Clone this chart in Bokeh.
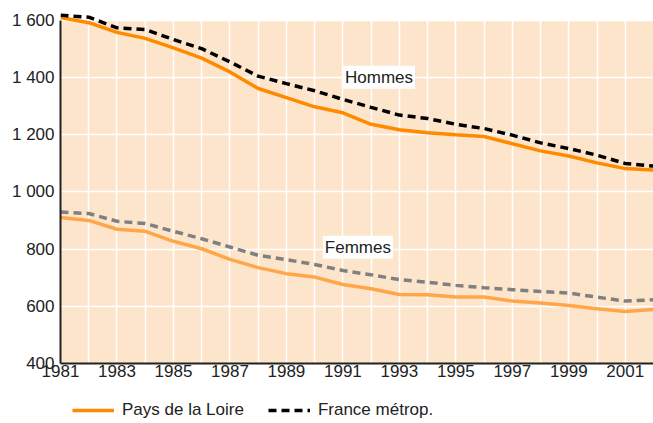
from bokeh.plotting import figure
from bokeh.layouts import column
from bokeh.models import (FixedTicker, Range1d, BoxAnnotation, Label, Legend, LegendItem)
from bokeh.embed import file_html
from bokeh.resources import INLINE

years = [1981, 1982, 1983, 1984, 1985, 1986, 1987, 1988, 1989, 1990, 1991,
         1992, 1993, 1994, 1995, 1996, 1997, 1998, 1999, 2000, 2001, 2002]
hommes_pdl = [1609, 1591, 1557, 1536, 1503, 1467, 1419, 1361, 1329, 1297, 1276,
              1236, 1217, 1206, 1199, 1193, 1168, 1143, 1125, 1101, 1081, 1076]
hommes_fr = [1617, 1610, 1573, 1567, 1532, 1500, 1454, 1404, 1378, 1353, 1323,
             1295, 1268, 1256, 1236, 1221, 1198, 1171, 1151, 1128, 1099, 1090]
femmes_pdl = [910, 900, 869, 862, 827, 801, 764, 735, 714, 702, 676,
              661, 641, 640, 632, 632, 618, 611, 603, 591, 582, 589]
femmes_fr = [929, 924, 897, 889, 862, 836, 807, 778, 763, 746, 725,
             710, 693, 684, 673, 665, 658, 652, 646, 632, 618, 623]
x_ticks = [1981, 1983, 1985, 1987, 1989, 1991, 1993, 1995, 1997, 1999, 2001]
y_ticks = [400, 600, 800, 1000, 1200, 1400, 1600]
y_tick_labels = ["400", "600", "800", "1 000", "1 200", "1 400", "1 600"]
series_names = ["Pays de la Loire", "France métrop."]
group_labels = ["Hommes", "Femmes"]

FONT = "Liberation Sans"
FS = "17px"
TXT = "#222222"
PEACH = "#FDE5CC"
ORANGE = "#FF8A00"
LIGHT_ORANGE = "#FFA748"
DASH = "8 5"

p = figure(width=653, height=385, output_backend="svg", toolbar_location=None,
           x_range=Range1d(1981, 2002), y_range=Range1d(400, 1630),
           min_border_left=60, min_border_right=0, min_border_top=11,
           min_border_bottom=22, background_fill_color="white",
           border_fill_color="white", outline_line_color=None)

p.add_layout(BoxAnnotation(left=1981, right=2002, bottom=400, top=1600,
                           fill_color=PEACH, fill_alpha=1.0, line_color=None,
                           level="image"))

p.xgrid.ticker = FixedTicker(ticks=years)
p.ygrid.ticker = FixedTicker(ticks=y_ticks)
p.xgrid.grid_line_color = "white"
p.ygrid.grid_line_color = "white"
p.xgrid.grid_line_width = 1.5
p.ygrid.grid_line_width = 1.5

p.xaxis.ticker = FixedTicker(ticks=x_ticks)
p.yaxis.ticker = FixedTicker(ticks=y_ticks)
p.yaxis.major_label_overrides = {t: l for t, l in zip(y_ticks, y_tick_labels)}
p.yaxis.bounds = (400, 1600)
for ax in (p.xaxis[0], p.yaxis[0]):
    ax.major_tick_in = 0
    ax.major_tick_out = 0
    ax.minor_tick_in = 0
    ax.minor_tick_out = 0
    ax.axis_line_color = TXT
    ax.axis_line_width = 2
    ax.major_label_text_font = FONT
    ax.major_label_text_font_size = FS
    ax.major_label_text_color = TXT
p.yaxis.major_label_standoff = 6
p.xaxis.major_label_standoff = 1

r_h_pdl = p.line(years, hommes_pdl, line_color=ORANGE, line_width=3.5)
r_h_fr = p.line(years, hommes_fr, line_color="black", line_width=3.5, line_dash=DASH)
r_f_pdl = p.line(years, femmes_pdl, line_color=LIGHT_ORANGE, line_width=3.5)
r_f_fr = p.line(years, femmes_fr, line_color="#808080", line_width=3.5, line_dash=DASH)

for txt, x, y in [(group_labels[0], 1992.28, 1400), (group_labels[1], 1991.53, 806)]:
    p.add_layout(Label(x=x, y=y, text=txt, text_align="center", text_baseline="middle",
                       text_font=FONT, text_font_size=FS, text_color=TXT,
                       background_fill_color="white", background_fill_alpha=1.0,
                       padding=2))

# legend strip below the chart (its sample lines lie outside its visible range)
q = figure(width=653, height=38, output_backend="svg", toolbar_location=None,
           x_range=Range1d(0, 1), y_range=Range1d(0, 1),
           x_axis_location=None, y_axis_location=None,
           min_border_left=0, min_border_right=0, min_border_top=0,
           min_border_bottom=0, background_fill_color="white",
           border_fill_color="white", outline_line_color=None)
q.grid.visible = False
l1 = q.line(years[:2], hommes_pdl[:2], line_color=ORANGE, line_width=3.5)
l2 = q.line(years[:2], hommes_fr[:2], line_color="black", line_width=3.5, line_dash=DASH)
legend = Legend(items=[LegendItem(label=series_names[0], renderers=[l1]),
                       LegendItem(label=series_names[1], renderers=[l2])],
                orientation="horizontal", location=(12, 3),
                label_text_font=FONT, label_text_font_size=FS,
                label_text_color=TXT, glyph_width=42, glyph_height=20,
                label_standoff=8, spacing=24, padding=0, margin=0,
                border_line_color=None, background_fill_alpha=0)
q.add_layout(legend)

layout = column(p, q, spacing=0)
open("out.html", "w").write(file_html(layout, INLINE))
